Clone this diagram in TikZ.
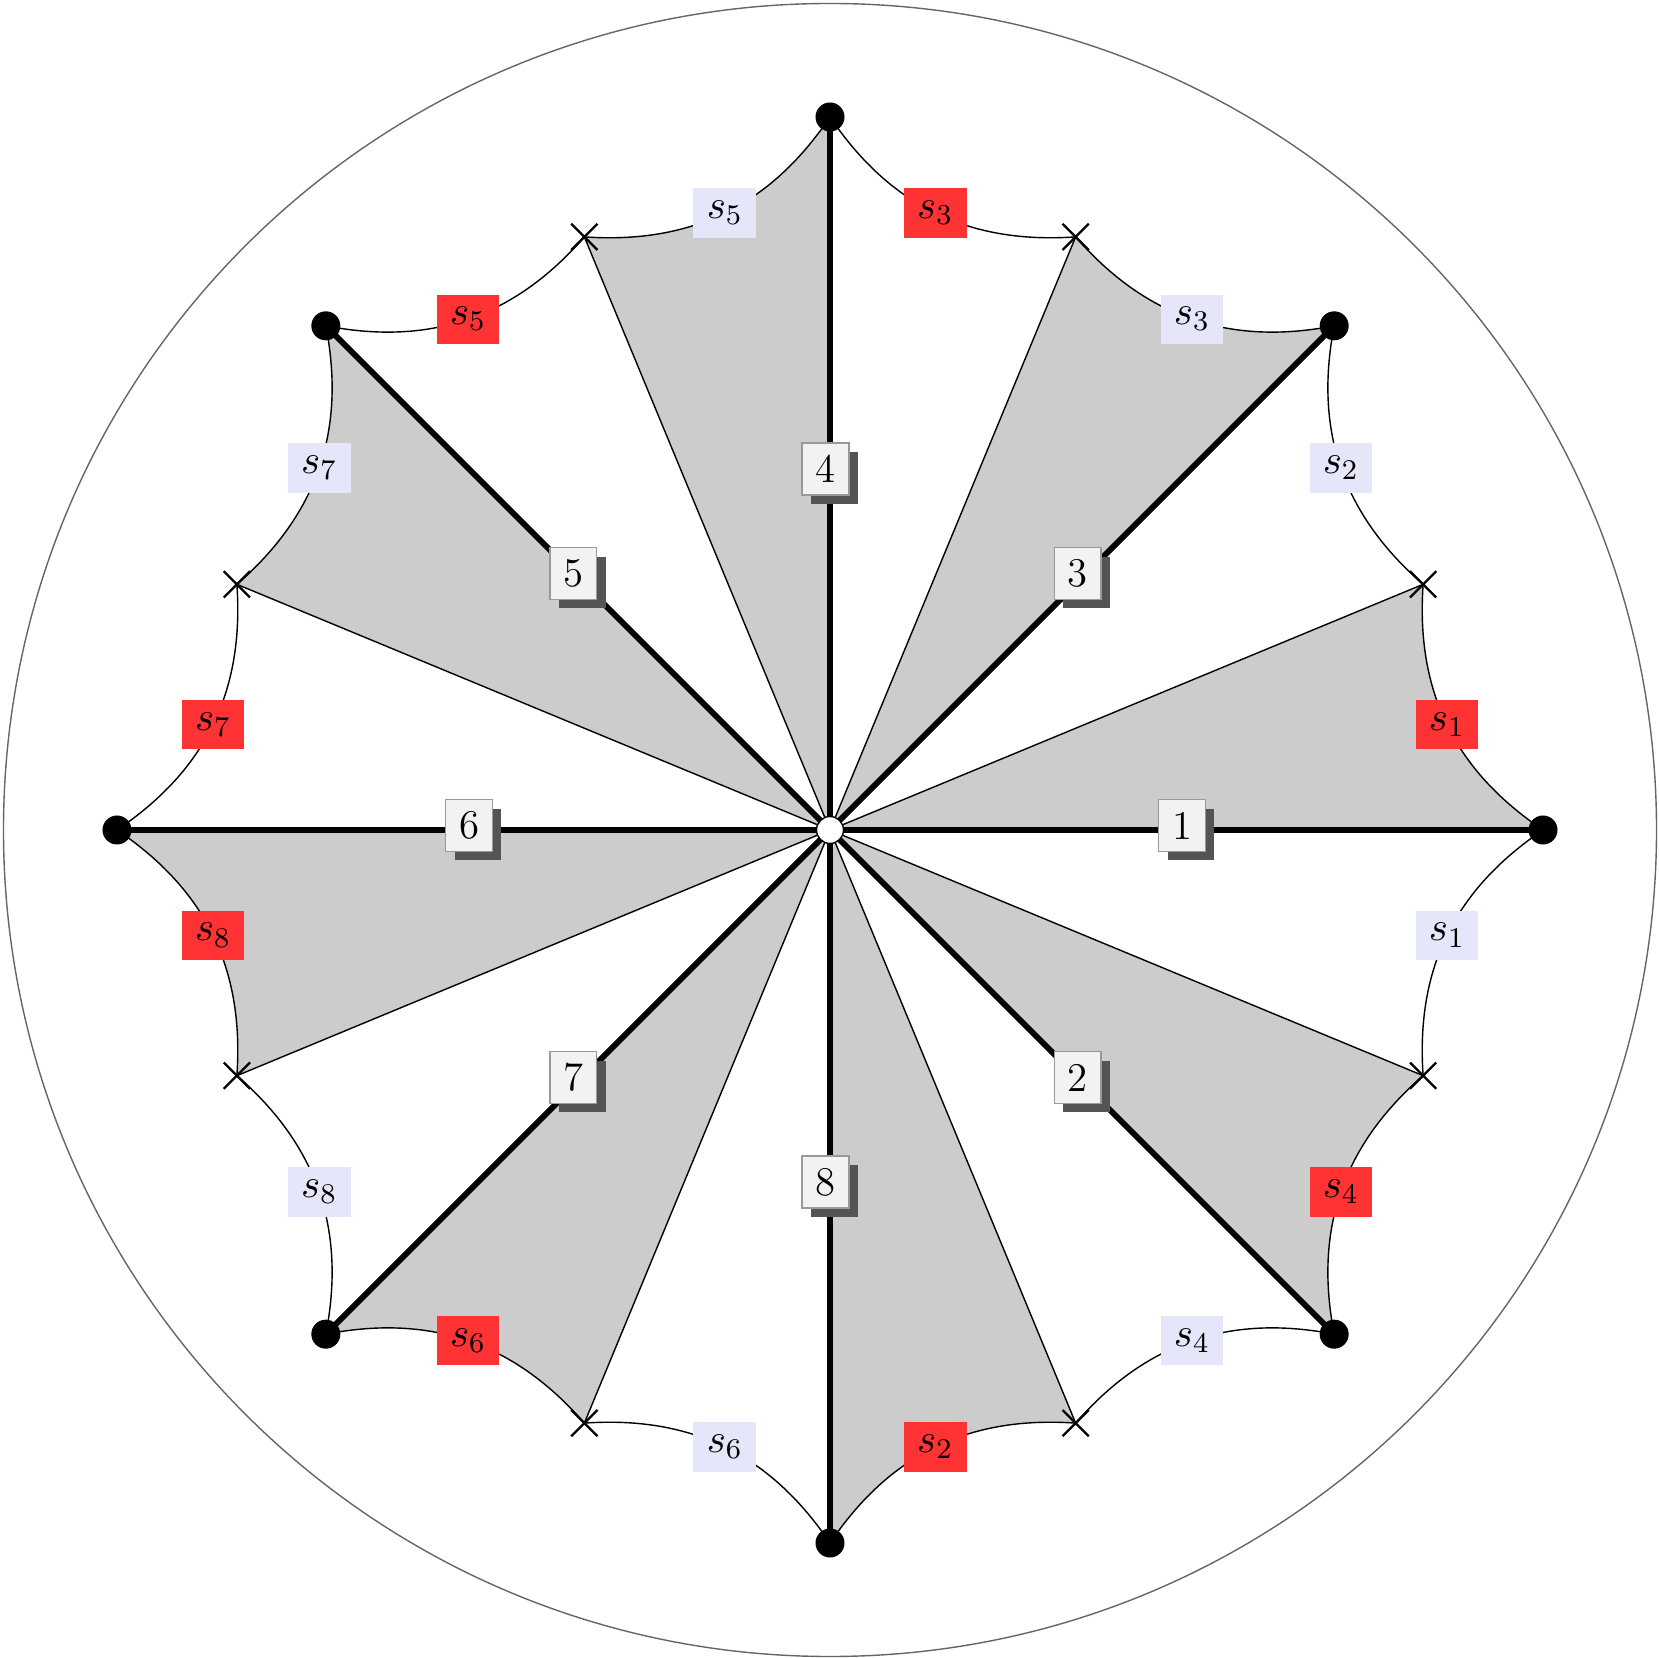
\RequirePackage{fix-cm}
\documentclass[tikz,border=0pt]{standalone}
\usetikzlibrary{shapes.misc,shadows}
\definecolor{sred}{RGB}{255,51,51}
\definecolor{slav}{RGB}{230,230,250}
\pgfdeclarelayer{back}
\pgfdeclarelayer{mid}
\pgfsetlayers{back,mid,main}
\begin{document}
\begin{tikzpicture}[
  font=\fontsize{11.6}{14}\selectfont,
  thinline/.style={line width=0.4pt, draw=black},
  ray/.style={line width=1.65pt, draw=black},
  dotnode/.style={circle, fill=black, minimum size=0.29cm, inner sep=0pt},
  crossnode/.style={cross out, draw=black, line width=0.65pt, minimum size=0.24cm, inner sep=0pt},
  hub/.style={circle, draw=black, fill=white, line width=0.4pt, minimum size=0.27cm, inner sep=0pt},
  numbox/.style={draw=black!40, fill=black!5, line width=0.4pt, minimum width=0.467cm,
    minimum height=0.517cm, inner sep=0pt, xshift=-0.045cm, yshift=0.045cm,
    drop shadow={shadow xshift=0.09cm, shadow yshift=-0.09cm, fill=black!67, opacity=1}},
  slab/.style={fill=#1, minimum width=0.627cm, minimum height=0.493cm, inner sep=0pt},
  sector/.style={fill=black!20},
  rimstyle/.style={circle, draw=black!60, line width=0.4pt, minimum size=16.53cm, inner sep=0pt}
]
\useasboundingbox (-8.30,-8.28) rectangle (8.28,8.30);
\node[rimstyle] (rim) at (0,0) {};
\node[hub] (c) at (0,0) {};
\foreach \k in {0,...,7} {
  \node[dotnode] (d\k) at ({45*\k}:7.13) {};
  \node[crossnode] (x\k) at ({45*\k+22.5}:6.42) {};
}
\begin{pgfonlayer}{back}
  \foreach \k in {0,...,7}
    \fill[sector] (c.center) -- (d\k.center) to[bend left=30] (x\k.center) -- cycle;
\end{pgfonlayer}
\begin{pgfonlayer}{mid}
  \foreach \k in {0,...,7}
    \draw[thinline] (c.center) -- (x\k.center);
  \foreach \k/\nxt/\ca/\la/\cb/\lb in {0/1/sred/1/slav/2, 1/2/slav/3/sred/3, 2/3/slav/5/sred/5,
      3/4/slav/7/sred/7, 4/5/sred/8/slav/8, 5/6/sred/6/slav/6, 6/7/sred/2/slav/4, 7/0/sred/4/slav/1}
    \draw[thinline] (d\k.center) to[bend left=30] node[slab=\ca] {$s_{\la}$} (x\k.center)
      to[bend left=30] node[slab=\cb] {$s_{\lb}$} (d\nxt.center);
  \foreach \k/\n in {0/1,1/3,2/4,3/5,4/6,5/7,6/8,7/2}
    \draw[ray] (c.center) -- node[numbox] {\n} (d\k.center);
\end{pgfonlayer}
\end{tikzpicture}
\end{document}
